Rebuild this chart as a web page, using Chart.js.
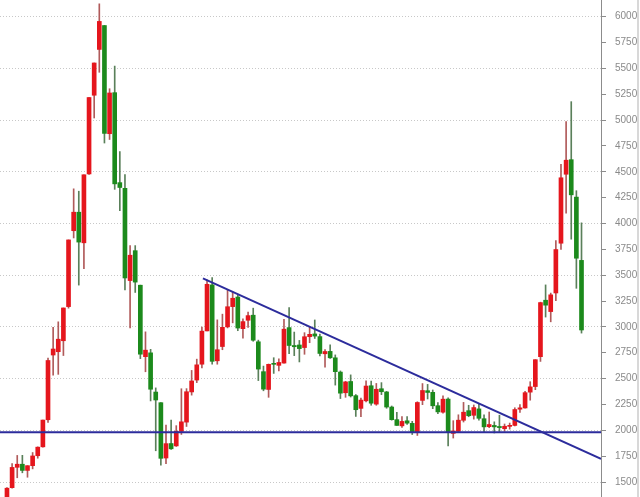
<!DOCTYPE html>
<html>
<head>
<meta charset="utf-8">
<script src="https://cdn.jsdelivr.net/npm/chart.js@4.4.1/dist/chart.umd.min.js"></script>
<style>
body { margin: 0; background: #fff; }
#wrap { position: relative; width: 640px; height: 497px; }
#edge { position: absolute; left: 637px; top: 0; width: 2px; height: 497px; background: #d8d8d8; }
</style>
</head>
<body>
<div id="wrap"><canvas id="c" width="640" height="497"></canvas><div id="edge"></div></div>
<script>
// monthly candles, Apr 2006 -> Aug 2015
const startYear = 2006, startMonth = 4
const open = [1301,1445,1642,1672,1612,1658,1754,1840,2102,
  2728,2760,2866,3196,3930,4109,3813,4479,5240,5683,5914,4868,
  5265,4395,4340,3448,3737,3403,2712,2749,2370,2267,1732,1872,
  1849,1990,2079,2371,2486,2639,2961,3406,2672,2810,3000,3196,
  3289,2983,3064,3113,2856,2567,2395,2641,2628,2650,2993,2820,
  2825,2800,2905,2932,2906,2740,2763,2701,2563,2363,2472,2335,
  2212,2285,2431,2253,2402,2371,2225,2103,2043,2092,2067,1980,
  2289,2383,2367,2238,2175,2302,1970,1990,2097,2190,2145,2207,
  2112,2035,2047,2037,2016,2038,2047,2204,2216,2369,2423,2712,
  3258,3148,3328,3809,4476,4617,4255,3643]
const high = [1445,1677,1757,1758,1658,1785,1840,2100,2698,
  2995,3049,3183,3841,4335,4312,4471,5218,5552,6124,5915,5303,
  5522,4695,4472,3786,3786,3404,2952,2783,2410,2267,2050,2100,
  2045,2402,2403,2579,2688,2997,3454,3478,3068,3123,3361,3339,
  3306,3078,3143,3181,2872,2621,2641,2702,2690,3073,3186,2950,
  2869,2944,3002,3067,2931,2780,2827,2729,2574,2474,2536,2346,
  2311,2478,2476,2453,2461,2376,2235,2174,2132,2133,2087,2276,
  2452,2444,2390,2268,2334,2315,2093,2150,2270,2242,2245,2260,
  2150,2177,2082,2146,2061,2070,2218,2248,2377,2470,2683,3239,
  3406,3327,3835,4572,4986,5178,4317,4006]
const low = [1293,1440,1541,1589,1546,1627,1730,1838,2075,
  2533,2541,2723,3181,3860,3404,3563,4474,5020,5462,4778,4812,
  4330,4123,3357,2990,3333,2693,2566,2284,1802,1664,1678,1814,
  1844,1960,2037,2340,2461,2602,2961,2639,2639,2779,2990,3039,
  2963,2890,2996,2861,2481,2382,2319,2550,2573,2650,2742,2722,
  2661,2735,2847,2888,2720,2610,2696,2437,2307,2319,2322,2134,
  2132,2275,2242,2242,2345,2213,2098,2047,2029,2056,1959,1950,
  2248,2303,2209,2161,2166,1849,1925,1984,2080,2131,2108,2097,
  1984,2025,1974,1988,1991,2011,2042,2172,2214,2291,2393,2666,
  3095,3049,3253,3750,4099,3848,3373,2940]
const close = [1440,1641,1672,1612,1658,1752,1837,2099,2675,
  2786,2881,3183,3841,4109,3820,4471,5218,5552,5954,4871,5262,
  4383,4348,3473,3693,3433,2736,2775,2397,2293,1729,1871,1821,
  1991,2082,2373,2477,2633,2959,3412,2667,2779,2996,3195,3277,
  2989,3051,3109,2871,2592,2398,2638,2638,2656,2978,2820,2808,
  2790,2905,2928,2911,2743,2762,2701,2567,2359,2468,2333,2199,
  2292,2428,2262,2397,2373,2225,2103,2047,2086,2069,1980,2269,
  2385,2366,2237,2178,2301,1979,1994,2098,2175,2141,2220,2116,
  2033,2056,2033,2026,2039,2048,2201,2217,2364,2420,2683,3235,
  3210,3310,3748,4442,4612,4277,3664,2970]

// drawn lines: [x index, value]
const trendLine = [[38.2, 3469], [115.8, 1723]]
const supportLine = [[-1.4, 1980], [115.8, 1980]]
const yTickValues = [1500,1750,2000,2250,2500,2750,3000,3250,3500,3750,4000,4250,4500,4750,5000,5250,5500,5750,6000]
const yRange = [1355, 6161]

const months = []
for (let i = 0; i < open.length; i++) {
    const m = startMonth - 1 + i
    months.push((startYear + Math.floor(m/12)) + '-' + String(m%12 + 1).padStart(2,'0'))
}

const red = '#e5161d'
const green = '#1c8a1c'
const up = open.map((o,i) => close[i] >= o)

const wicks = months.map((m,i) => ({x: i, y: [low[i], high[i]]}))
const bodies = months.map((m,i) => ({x: i, y: [open[i], close[i]]}))

const chart = new Chart(document.getElementById('c'), {
    type: 'bar',
    data: {
        datasets: [
            {
                type: 'line',
                data: trendLine.map(p => ({x: p[0], y: p[1]})),
                borderColor: '#2c2c9c',
                borderWidth: 2,
                pointRadius: 0,
                order: 0
            },
            {
                type: 'line',
                data: supportLine.map(p => ({x: p[0], y: p[1]})),
                borderColor: '#2c2c9c',
                borderWidth: 2,
                pointRadius: 0,
                order: 0
            },
            {
                data: bodies,
                backgroundColor: up.map(u => u ? red : green),
                barThickness: 4,
                minBarLength: 1,
                grouped: false,
                order: 1
            },
            {
                data: wicks,
                backgroundColor: up.map(u => u ? '#b05a5a' : '#5a805a'),
                barThickness: 1,
                grouped: false,
                order: 2
            }
        ]
    },
    options: {
        responsive: false,
        animation: false,
        layout: {padding: 0},
        plugins: {legend: {display: false}, tooltip: {enabled: false}},
        scales: {
            x: {
                type: 'linear',
                min: -1.36,
                max: 115.8,
                offset: false,
                display: false
            },
            y: {
                position: 'right',
                min: yRange[0],
                max: yRange[1],
                afterBuildTicks: s => { s.ticks = yTickValues.map(v => ({value: v})) },
                afterFit: s => { s.width = 39; s.paddingTop = 0; s.paddingBottom = 0 },
                border: {display: true, color: '#8c8c8c', width: 1, dash: [1, 2]},
                grid: {
                    color: c => (c.tick && c.tick.value % 500 === 0) ? '#c8c8c8' : 'rgba(0,0,0,0)',
                    tickColor: '#8c8c8c',
                    tickLength: 5,
                    tickBorderDash: []
                },
                ticks: {
                    padding: 9,
                    color: '#8a8a8a',
                    font: {family: 'Liberation Sans', size: 10},
                    callback: v => String(v)
                }
            }
        }
    }
})
</script>
</body>
</html>
